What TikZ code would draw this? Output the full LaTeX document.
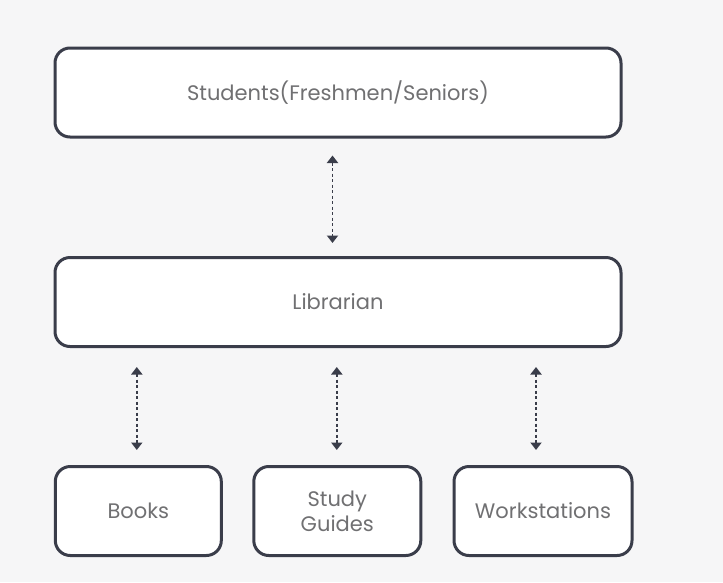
\documentclass[tikz,border=0pt]{standalone}
\usepackage{fontspec}
\setmainfont{Poppins}
\usetikzlibrary{arrows.meta}
\definecolor{bg}{HTML}{F6F6F7}
\definecolor{edge}{HTML}{3A3D4A}
\definecolor{txt}{HTML}{707072}
\tikzset{
  box/.style={draw=edge, line width=3pt, rounded corners=15pt, fill=white,
    text=txt, font=\fontsize{21}{25}\selectfont, align=center, inner sep=0pt},
  biarrow/.style={draw=edge, line width=1.9pt, dash pattern=on 3pt off 2.5pt,
    {Triangle[length=7.5pt,width=11pt]}-{Triangle[length=7.5pt,width=11pt]}},
}
\begin{document}
\begin{tikzpicture}[x=1pt,y=-1pt]
\fill[bg] (0,0) rectangle (723,582);
\useasboundingbox (0,0) rectangle (723,582);
\node[box, minimum width=566pt, minimum height=89pt] (S) at (338,92.5) {Students(Freshmen/Seniors)};
\node[box, minimum width=566pt, minimum height=89pt] (L) at (338,302) {Librarian};
\node[box, minimum width=166pt, minimum height=89pt] (B) at (138.3,511) {Books};
\node[box, minimum width=167pt, minimum height=89pt] (G) at (337.3,511) {Study\\Guides};
\node[box, minimum width=178pt, minimum height=89pt] (W) at (543,511) {Workstations};
\draw[biarrow, shorten <=17pt, shorten >=13pt] ([xshift=-5.5pt]S.south) -- ([xshift=-5.5pt]L.north);
\draw[biarrow, shorten <=19pt, shorten >=15pt] ([xshift=-1.5pt]B.north |- L.south) -- ([xshift=-1.5pt]B.north);
\draw[biarrow, shorten <=19pt, shorten >=15pt] ([xshift=-0.5pt]G.north |- L.south) -- ([xshift=-0.5pt]G.north);
\draw[biarrow, shorten <=19pt, shorten >=15pt] ([xshift=-7pt]W.north |- L.south) -- ([xshift=-7pt]W.north);
\end{tikzpicture}
\end{document}
